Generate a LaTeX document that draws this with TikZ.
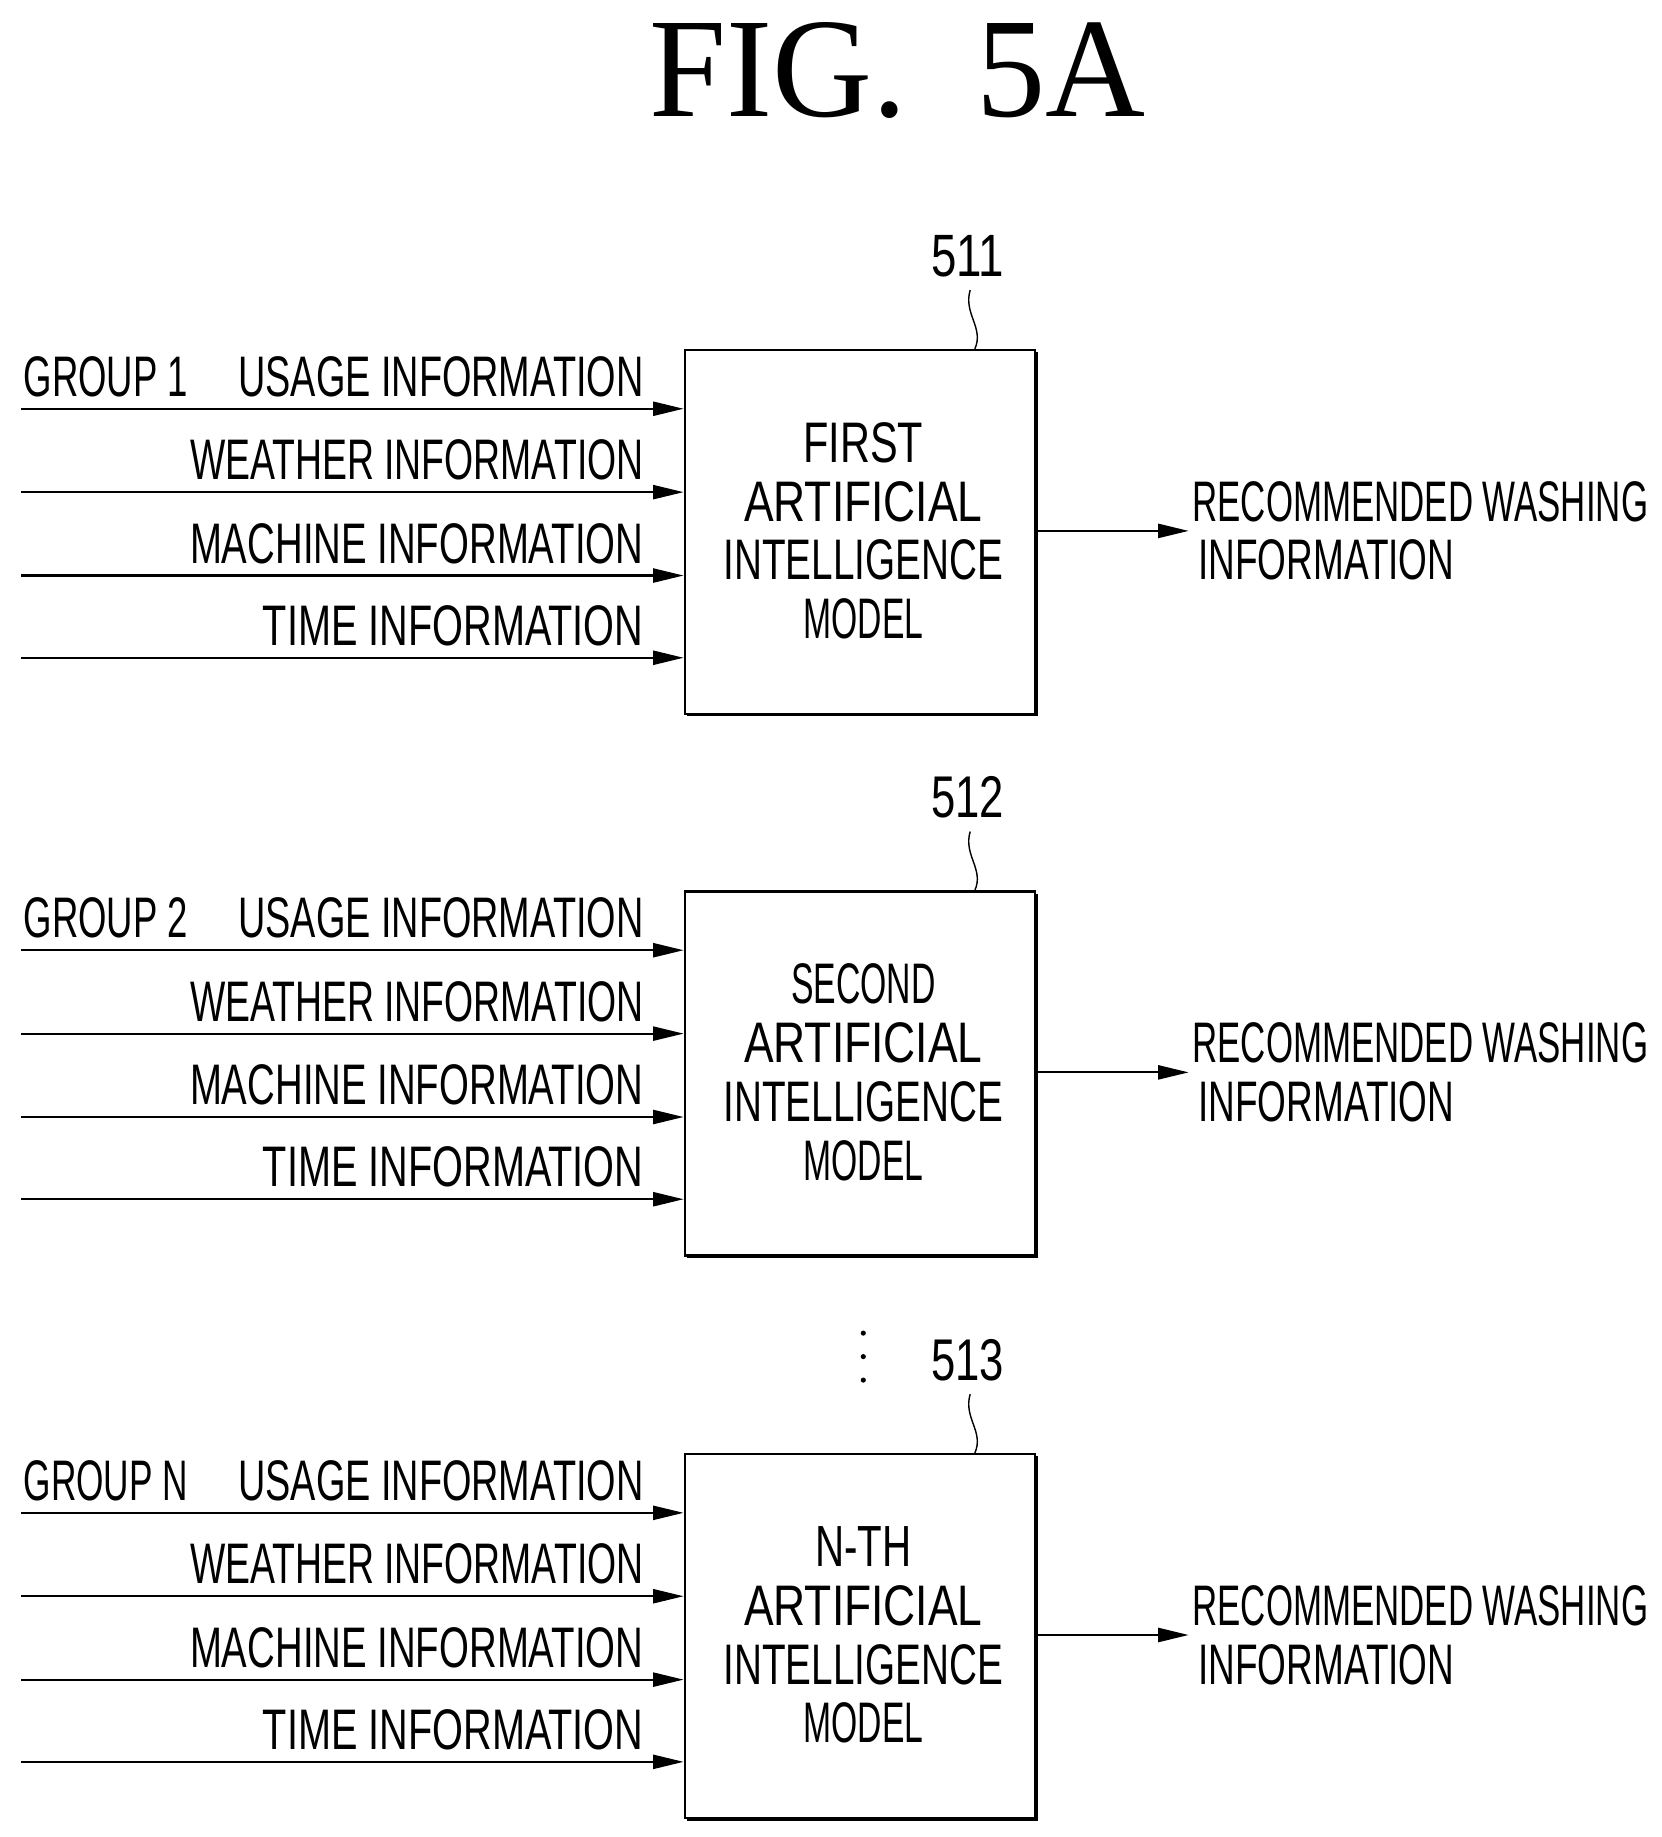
\documentclass[tikz,border=0pt]{standalone}
\usepackage{fontspec}
\setmainfont{Liberation Sans}
\newfontfamily\titlefont{Liberation Serif}
\usetikzlibrary{arrows.meta}
\newcommand{\FitT}[2]{\resizebox{#1pt}{34pt}{#2}}
\begin{document}
\begin{tikzpicture}[x=1pt,y=-1pt,
  lbl/.style={inner sep=0pt,anchor=south east,font=\fontsize{40}{40}\selectfont},
  inl/.style={line width=1.8pt,-{Triangle[length=26pt,width=12pt]}},
  bx/.style={draw,line width=2pt,fill=white,minimum width=298pt,minimum height=310pt,anchor=north west,inner sep=0pt},
  txt/.style={inner sep=0pt,font=\fontsize{40}{40}\selectfont}]
\useasboundingbox (0,0) rectangle (1415,1564);
\node[inner sep=0pt,font=\titlefont] (title) at (764,60) {\resizebox{422pt}{80pt}{FIG.\ \ 5A}};
\foreach \y/\t/\tw/\g/\n in {297/FIRST/102/1/511,758/SECOND/123/2/512,1237/N-TH/82/N/513}{
  \fill (585,\y+3) rectangle (884,\y+313);
  \node[bx] (box\g) at (582,\y) {};
  \node[txt] (b\g t1) at (735,\y+80) {\FitT{\tw}{\t}};
  \node[txt] (b\g t2) at (735,\y+130) {\FitT{203}{ARTIFICIAL}};
  \node[txt] (b\g t3) at (735,\y+180) {\FitT{238}{INTELLIGENCE}};
  \node[txt] (b\g t4) at (735,\y+230) {\FitT{102}{MODEL}};
  \coordinate (s\g1) at (18,\y+51);
  \coordinate (s\g2) at (18,\y+122);
  \coordinate (s\g3) at (18,\y+193);
  \coordinate (s\g4) at (18,\y+263);
  \foreach \k in {1,...,4}{ \draw[inl] (s\g\k) -- (s\g\k -| box\g.west); }
  \node[lbl,anchor=south west] (grp\g) at (20,\y+41) {\FitT{140}{GROUP \g}};
  \node[lbl] (u\g) at (548,\y+41) {\FitT{345}{USAGE INFORMATION}};
  \node[lbl] (w\g) at (548,\y+112) {\FitT{386}{WEATHER INFORMATION}};
  \node[lbl] (m\g) at (548,\y+183) {\FitT{386}{MACHINE INFORMATION}};
  \node[lbl] (ti\g) at (548,\y+253) {\FitT{324}{TIME INFORMATION}};
  \coordinate (o\g) at (1012,\y+155);
  \draw[inl] (box\g.east |- o\g) -- (o\g);
  \node[txt,anchor=west] (r\g) at (1015,\y+130) {\FitT{388}{RECOMMENDED WASHING}};
  \node[txt,anchor=west] (i\g) at (1020,\y+180) {\FitT{218}{INFORMATION}};
  \node[txt] (ref\g) at (824,\y-79) {\resizebox{62pt}{35pt}{\n}};
  \draw[line width=1.2pt] (830,\y) .. controls (838,\y-18) and (820,\y-30) .. (826,\y-50);
}
\foreach \yy in {1135,1155,1175}{ \fill (735,\yy) circle (2.2pt); }
\end{tikzpicture}
\end{document}
